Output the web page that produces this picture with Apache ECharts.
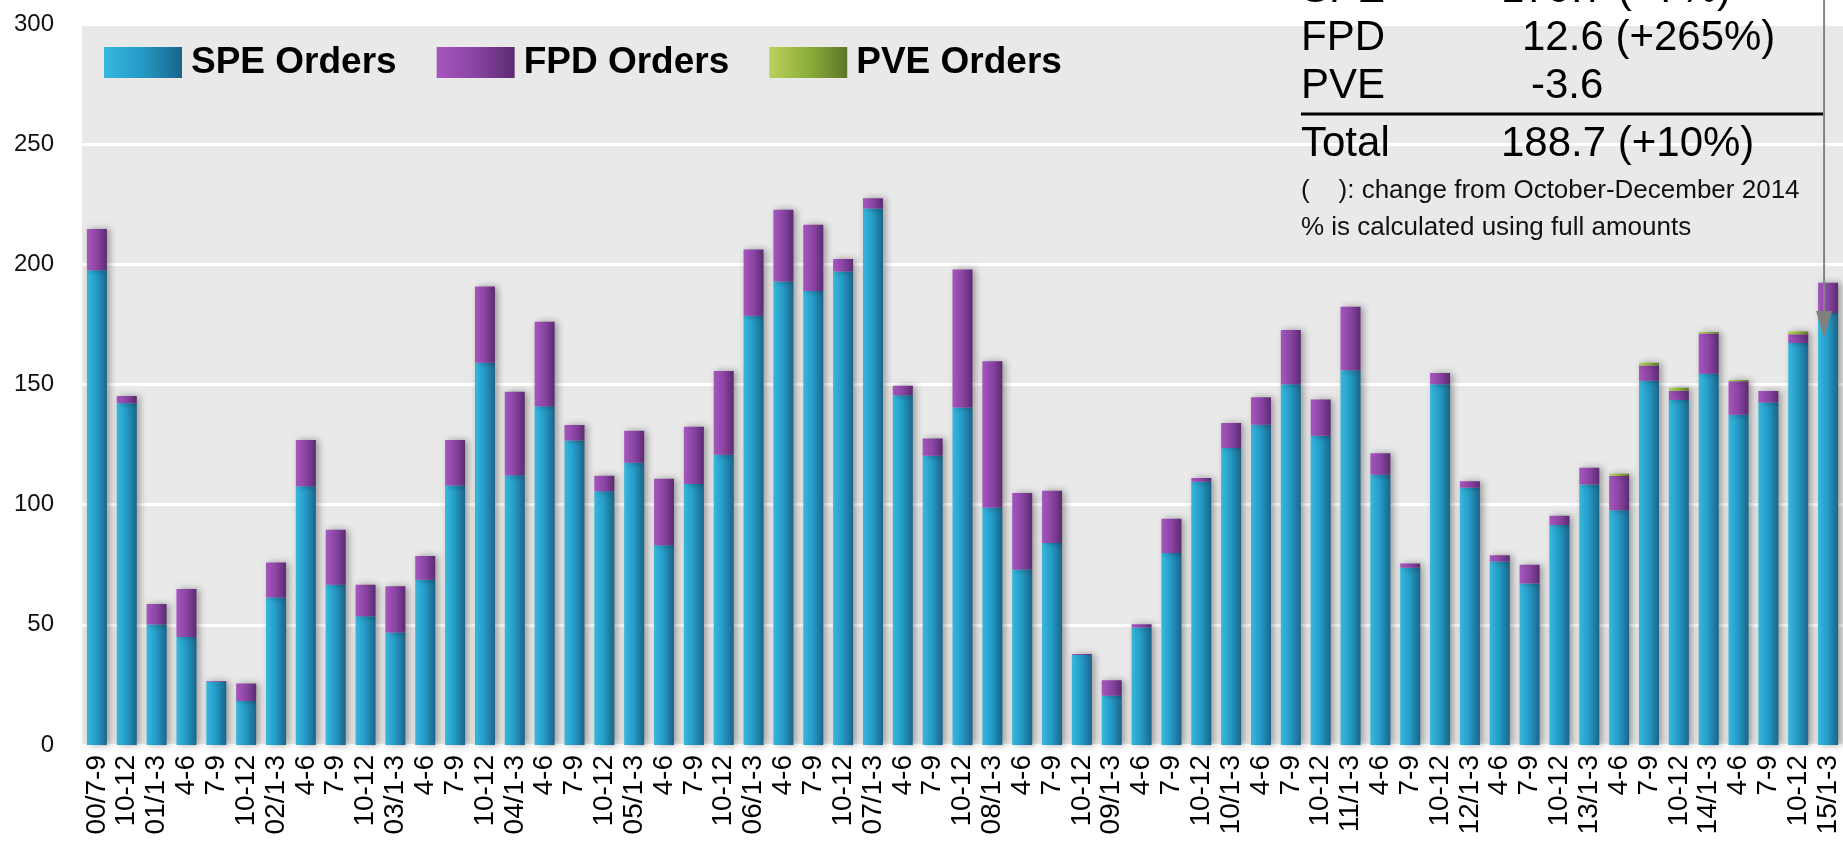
<!DOCTYPE html>
<html>
<head>
<meta charset="utf-8">
<script src="https://cdn.jsdelivr.net/npm/echarts@6/dist/echarts.min.js"></script>
<style>
  html, body { margin: 0; padding: 0; background: #fff; }
  #orders { width: 1843px; height: 845px; }
</style>
</head>
<body>
<div id="orders"></div>
<script>
// quarters, 2000 Jul-Sep .. 2015 Jan-Mar
var quarters = ['00/7-9', '10-12',
  '01/1-3', '4-6', '7-9', '10-12',
  '02/1-3', '4-6', '7-9', '10-12',
  '03/1-3', '4-6', '7-9', '10-12',
  '04/1-3', '4-6', '7-9', '10-12',
  '05/1-3', '4-6', '7-9', '10-12',
  '06/1-3', '4-6', '7-9', '10-12',
  '07/1-3', '4-6', '7-9', '10-12',
  '08/1-3', '4-6', '7-9', '10-12',
  '09/1-3', '4-6', '7-9', '10-12',
  '10/1-3', '4-6', '7-9', '10-12',
  '11/1-3', '4-6', '7-9', '10-12',
  '12/1-3', '4-6', '7-9', '10-12',
  '13/1-3', '4-6', '7-9', '10-12',
  '14/1-3', '4-6', '7-9', '10-12',
  '15/1-3'];

var speOrders = [197.5, 142.2,
  50.1, 44.9, 26.2, 18.3,
  61.4, 107.7, 66.7, 53.6,
  46.8, 68.8, 108.0, 159.0,
  112.2, 141.0, 126.7, 105.6,
  117.4, 83.1, 108.6, 120.8,
  178.6, 192.9, 188.9, 197.0,
  223.2, 145.5, 120.4, 140.4,
  98.8, 73.0, 84.0, 37.4,
  20.5, 48.9, 79.9, 109.5,
  123.6, 133.3, 150.1, 128.7,
  155.9, 112.5, 73.7, 150.1,
  107.0, 76.4, 67.2, 91.5,
  108.4, 97.7, 151.6, 143.5,
  154.5, 137.4, 142.5, 167.3,
  179.7];

var fpdOrders = [17.2, 3.0,
  8.6, 20.0, 0.3, 7.3,
  14.5, 19.2, 22.9, 13.1,
  19.3, 9.8, 18.9, 31.8,
  34.8, 35.1, 6.4, 6.4,
  13.4, 27.7, 23.8, 34.8,
  27.6, 29.8, 27.6, 5.2,
  4.3, 4.0, 7.1, 57.5,
  60.9, 31.9, 21.8, 0.5,
  6.4, 1.3, 14.2, 1.6,
  10.4, 11.4, 22.6, 15.1,
  26.4, 8.9, 1.8, 4.7,
  2.7, 2.6, 7.8, 3.9,
  7.0, 14.2, 6.3, 3.9,
  16.7, 14.0, 4.8, 3.6,
  12.6];

var pveOrders = [0, 0,
  0, 0, 0, 0,
  0, 0, 0, 0,
  0, 0, 0, 0,
  0, 0, 0, 0,
  0, 0, 0, 0,
  0, 0, 0, 0,
  0, 0, 0, 0,
  0, 0, 0, 0,
  0, 0, 0, 0,
  0, 0, 0, 0,
  0, 0, 0, 0,
  0, 0, 0, 0,
  0, 1.0, 1.1, 1.2,
  0.6, 0.5, 0, 1.2,
  -3.6];

var yTicks = [0, 50, 100, 150, 200, 250, 300];

// summary box, top right
var summaryRows = [
  { name: 'SPE', value: '179.7 (+7%)' },
  { name: 'FPD', value: '12.6 (+265%)' },
  { name: 'PVE', value: '-3.6' }
];
var summaryTotal = { name: 'Total', value: '188.7 (+10%)' };
var summaryNotes = ['(    ): change from October-December 2014', '% is calculated using full amounts'];

var font = '"Liberation Sans", Arial, sans-serif';

function grad(stops) {
  return new echarts.graphic.LinearGradient(0, 0, 1, 0, stops);
}

var barShadow = {
  shadowColor: 'rgba(0, 0, 0, 0.35)',
  shadowBlur: 7,
  shadowOffsetX: 3,
  shadowOffsetY: 0
};

var chartDom = document.getElementById('orders');
var chart = echarts.init(chartDom, null, { renderer: 'canvas' });

var options = {
  animation: false,
  textStyle: { fontFamily: font },
  grid: {
    left: 82,
    top: 24,
    width: 1763,
    bottom: 100,
    show: true,
    backgroundColor: '#e9e9e9',
    borderWidth: 0
  },
  legend: {
    left: 99,
    top: 39,
    itemWidth: 78,
    itemHeight: 31,
    itemGap: 40,
    icon: 'rect',
    data: ['SPE Orders', 'FPD Orders', 'PVE Orders'],
    textStyle: {
      fontFamily: font,
      fontSize: 37,
      fontWeight: 'bold',
      color: '#000',
      padding: [0, 0, 0, 4]
    }
  },
  xAxis: {
    type: 'category',
    data: quarters,
    axisLine: { show: false },
    axisTick: { show: false },
    axisLabel: {
      interval: 0,
      rotate: 90,
      margin: 10,
      fontSize: 28,
      color: '#000',
      fontFamily: font
    }
  },
  yAxis: {
    type: 'value',
    min: yTicks[0],
    max: yTicks[yTicks.length - 1],
    interval: yTicks[1] - yTicks[0],
    axisLine: { show: false },
    axisTick: { show: false },
    axisLabel: {
      margin: 28,
      fontSize: 24,
      color: '#111',
      fontFamily: font
    },
    splitLine: { lineStyle: { color: '#ffffff', width: 3 } }
  },
  series: [
    {
      name: 'SPE Orders',
      type: 'bar',
      stack: 'orders',
      barWidth: 20,
      data: speOrders,
      itemStyle: Object.assign({
        color: grad([
          { offset: 0, color: '#38b8dc' },
          { offset: 0.45, color: '#259dca' },
          { offset: 1, color: '#1a6589' }
        ])
      }, barShadow)
    },
    {
      name: 'FPD Orders',
      type: 'bar',
      stack: 'orders',
      barWidth: 20,
      data: fpdOrders,
      itemStyle: Object.assign({
        color: grad([
          { offset: 0, color: '#a656be' },
          { offset: 0.5, color: '#8a44a3' },
          { offset: 1, color: '#5b2b70' }
        ])
      }, barShadow)
    },
    {
      name: 'PVE Orders',
      type: 'bar',
      stack: 'orders',
      barWidth: 20,
      data: pveOrders,
      itemStyle: Object.assign({
        color: grad([
          { offset: 0, color: '#b9d25a' },
          { offset: 0.5, color: '#8cae3c' },
          { offset: 1, color: '#5c7626' }
        ])
      }, barShadow)
    }
  ]
};

chart.setOption(options);

// summary text and arrow, drawn over the plot
var rowX = 1301;
var valueX = [1501, 1522, 1531];
var big = 42, small = 26;
var elements = [];

summaryRows.forEach(function (row, i) {
  var base = 5 + i * 48;
  elements.push({
    type: 'text', x: rowX, y: base - 0.35 * big, z: 100,
    style: { text: row.name, font: big + 'px ' + font, fill: '#000', verticalAlign: 'middle' }
  });
  elements.push({
    type: 'text', x: valueX[i], y: base - 0.35 * big, z: 100,
    style: { text: row.value, font: big + 'px ' + font, fill: '#000', verticalAlign: 'middle' }
  });
});

elements.push({
  type: 'line', z: 100,
  shape: { x1: rowX, y1: 114, x2: 1823, y2: 114 },
  style: { stroke: '#000', lineWidth: 3 }
});
elements.push({
  type: 'text', x: rowX, y: 159 - 0.35 * big, z: 100,
  style: { text: summaryTotal.name, font: big + 'px ' + font, fill: '#000', verticalAlign: 'middle' }
});
elements.push({
  type: 'text', x: 1501, y: 159 - 0.35 * big, z: 100,
  style: { text: summaryTotal.value, font: big + 'px ' + font, fill: '#000', verticalAlign: 'middle' }
});
summaryNotes.forEach(function (note, i) {
  elements.push({
    type: 'text', x: rowX, y: 200 + i * 37 - 0.35 * small, z: 100,
    style: { text: note, font: small + 'px ' + font, fill: '#111', verticalAlign: 'middle' }
  });
});

// arrow pointing at the latest quarter
var lastX = chart.convertToPixel({ xAxisIndex: 0 }, quarters.length - 1) - 4;
elements.push({
  type: 'line', z: 100,
  shape: { x1: lastX, y1: 0, x2: lastX, y2: 314 },
  style: { stroke: '#858585', lineWidth: 2 }
});
elements.push({
  type: 'polygon', z: 100,
  shape: { points: [[lastX - 8, 311], [lastX + 8, 311], [lastX, 338]] },
  style: { fill: '#808080' }
});

chart.setOption({ graphic: { elements: elements } });
</script>
</body>
</html>
